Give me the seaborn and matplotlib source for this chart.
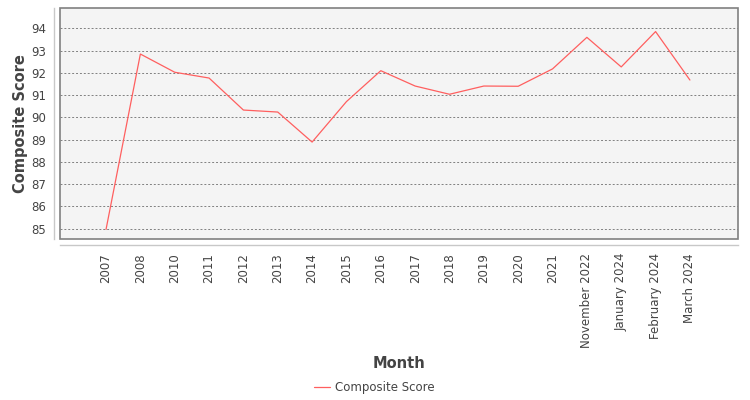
import pandas as pd
import matplotlib.pyplot as plt
import seaborn as sns

# Data
months = ['2007', '2008', '2010', '2011', '2012', '2013', '2014', '2015',
          '2016', '2017', '2018', '2019', '2020', '2021',
          'November 2022', 'January 2024', 'February 2024', 'March 2024']
scores = [84.96, 92.85, 92.03, 91.77, 90.33, 90.24, 88.89, 90.71,
          92.10, 91.41, 91.04, 91.41, 91.40, 92.18,
          93.60, 92.27, 93.86, 91.68]

df = pd.DataFrame({'Month': months, 'Composite Score': scores})

sns.set_style('white')
plt.rcParams['font.family'] = ['DejaVu Sans']

fig = plt.figure(figsize=(7.5, 4), dpi=100)
ax = fig.add_axes([0.08, 0.4025, 0.904, 0.5775])

sns.lineplot(data=df, x='Month', y='Composite Score', sort=False, ax=ax,
             color='#ff5f5f', linewidth=0.9, label='Composite Score')

# background and frame
ax.set_facecolor('#f4f4f4')
ax.patch.set_edgecolor('#808080')
ax.patch.set_linewidth(1.2)

ax.set_xlim(-1.34, len(months) - 1 + 1.4)
ax.set_ylim(84.53, 94.92)
ax.set_yticks(range(85, 95))

ax.grid(axis='y', color='#808080', linestyle=(0, (2, 2)), linewidth=0.7)
ax.grid(axis='x', visible=False)

# offset axis lines
ax.spines['top'].set_visible(False)
ax.spines['right'].set_visible(False)
for side in ['left', 'bottom']:
    ax.spines[side].set_position(('outward', 4))
    ax.spines[side].set_color('#c8c8c8')
    ax.spines[side].set_linewidth(1)

ax.tick_params(axis='x', rotation=90, length=4, width=0.8, color='#b0b0b0',
               labelsize=8.5, labelcolor='#444444', pad=2)
ax.tick_params(axis='y', length=3, width=0.8, color='#b0b0b0',
               labelsize=8.5, labelcolor='#444444', pad=3)

ax.set_xlabel('Month', fontsize=10.5, fontweight='bold', color='#444444', labelpad=6)
ax.set_ylabel('Composite Score', fontsize=10.5, fontweight='bold', color='#444444', labelpad=2)

ax.get_legend().remove()
handles, labels = ax.get_legend_handles_labels()
fig.legend(handles, labels, loc='center', bbox_to_anchor=(0.499, 0.032),
           frameon=False, fontsize=8.5, labelcolor='#444444',
           handlelength=1.4, handletextpad=0.4)

fig.savefig('out.png', dpi=100)
